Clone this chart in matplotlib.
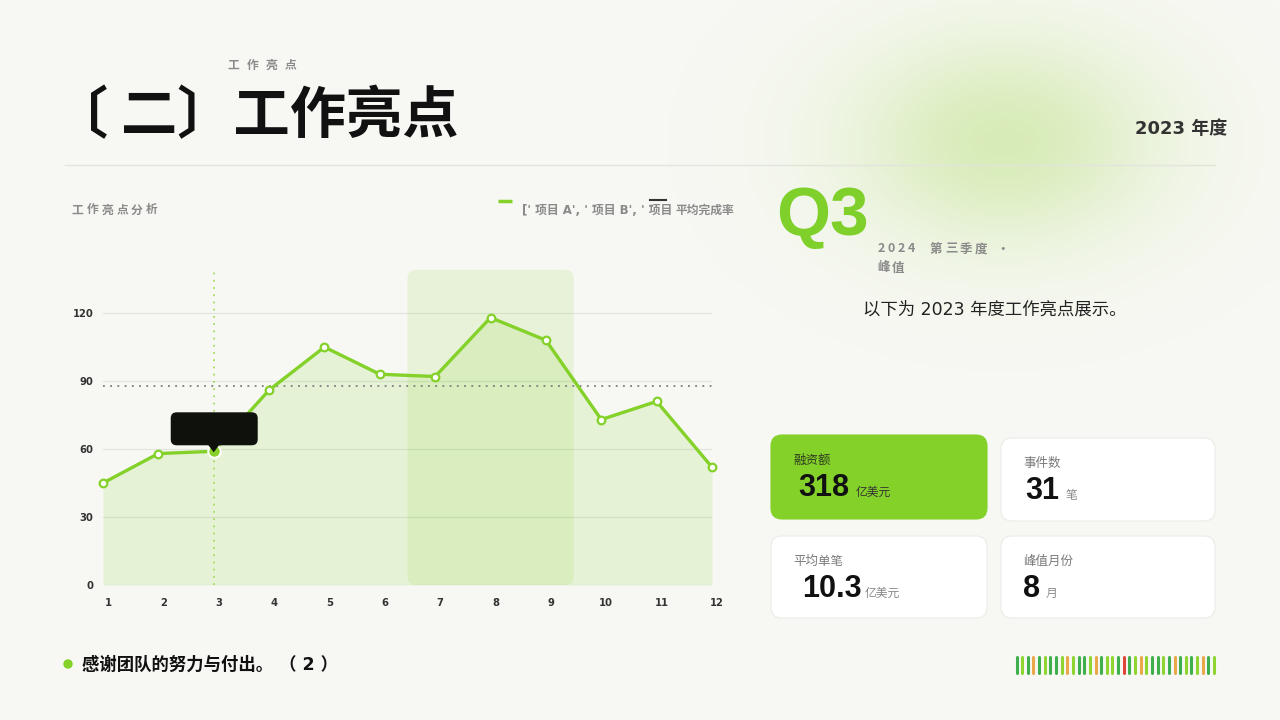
import numpy as np
import matplotlib
matplotlib.use('Agg')
import matplotlib.pyplot as plt
from matplotlib.patches import FancyBboxPatch, Circle, Polygon
from matplotlib.transforms import ScaledTranslation

plt.rcParams['font.family'] = ['Noto Sans CJK SC', 'DejaVu Sans']

# ---------------- data ----------------
months = [1, 2, 3, 4, 5, 6, 7, 8, 9, 10, 11, 12]
month_labels = ['1', '2', '3', '4', '5', '6', '7', '8', '9', '10', '11', '12']
values = [45, 58, 59, 86, 105, 93, 92, 118, 108, 73, 81, 52]
avg_rate = 88
y_ticks = [0, 30, 60, 90, 120]
y_tick_labels = ['0', '30', '60', '90', '120']
y_max = 139
highlight_start, highlight_end = 6.5, 9.5
focus_month = 3

kpi_labels = ['融资额', '事件数', '平均单笔', '峰值月份']
kpi_values = ['318', '31', '10.3', '8']
kpi_units = ['亿美元', '笔', '亿美元', '月']

strip_keys = ['dg', 'lg', 'dg', 'or', 'dg', 'lg', 'dg', 'dg', 'lg', 'or',
              'lg', 'dg', 'dg', 'lg', 'or', 'dg', 'lg', 'lg', 'dg', 'red',
              'dg', 'lg', 'or', 'lg', 'dg', 'dg', 'lg', 'dg', 'or', 'dg',
              'lg', 'dg', 'lg', 'or', 'dg', 'lg']

# ---------------- style ----------------
W, H = 1280, 720
BG = '#f7f8f3'
GREEN = '#84d12a'
strip_palette = {'dg': '#3fae4c', 'lg': '#8ed62f', 'or': '#e9a84a', 'red': '#e0443a'}
LAT = ['DejaVu Sans', 'Noto Sans CJK SC']

fig = plt.figure(figsize=(W / 100, H / 100), dpi=100, facecolor=BG)
renderer = fig.canvas.get_renderer()

bg = fig.add_axes([0, 0, 1, 1], zorder=0)
bg.set_xlim(0, W)
bg.set_ylim(H, 0)
bg.axis('off')

# soft green glow
gx = np.linspace(0, W, W // 4)
gy = np.linspace(0, H, H // 4)
GX, GY = np.meshgrid(gx, gy)
alpha = 0.52 * np.exp(-(((GX - 1005) / 108) ** 2 + ((GY - 140) / 74) ** 2) / 2)
img = np.zeros((len(gy), len(gx), 4))
img[..., 0] = 0.73
img[..., 1] = 0.88
img[..., 2] = 0.50
img[..., 3] = alpha
bg.imshow(img, extent=(0, W, H, 0), origin='upper', aspect='auto', zorder=0)
bg.set_xlim(0, W)
bg.set_ylim(H, 0)


def tracked(axx, x, y, s, track, **kw):
    fs = kw.get('fontsize', 10)
    for ch in s:
        if ch == ' ':
            x += fs * 100 / 72 * 0.3 + track
            continue
        t = axx.text(x, y, ch, **kw)
        x += t.get_window_extent(renderer).width + track


# header
tracked(bg, 228, 65, '工作亮点', 7, fontsize=8.5, fontweight='bold', color='#8a8a8a', va='center')
bg.text(52, 117, '〔 二〕工作亮点', fontsize=40.5, fontweight='bold', color='#111111', va='center', ha='left')
bg.text(1227, 129, '2023 年度', fontsize=13, fontweight='bold', color='#333333', va='center', ha='right',
        family=LAT)
bg.plot([65, 1215], [165, 165], color='#e2e4dd', lw=1)

# chart header and legend
tracked(bg, 72, 210, '工作亮点分析', 3, fontsize=8.5, fontweight='bold', color='#8a8a8a', va='center')
bg.plot([498, 512], [201, 201], color=GREEN, lw=2.5, solid_capstyle='butt')
bg.text(522, 210, "[' 项目 A', ' 项目 B', ' 项目", fontsize=8.5, fontweight='bold', color='#8a8a8a',
        va='center', family=LAT)
bg.plot([650, 666], [200, 200], color='#333333', lw=1.5)
bg.text(675, 210, '平均完成率', fontsize=8.5, fontweight='bold', color='#8a8a8a', va='center')

# right panel
bg.text(776, 235, 'Q3', fontsize=50, fontweight='bold', color='#7fd02a', va='baseline',
        family=['Liberation Sans', 'DejaVu Sans'])
tracked(bg, 878, 249, '2024  第三季度 ·', 2.5, fontsize=9, fontweight='bold', color='#8a8a8a', va='center')
tracked(bg, 877, 268, '峰值', 2.5, fontsize=9, fontweight='bold', color='#8a8a8a', va='center')
bg.text(863, 310, '以下为 2023 年度工作亮点展示。', fontsize=12.5, color='#222222', va='center', family=LAT)

# KPI cards
cards = [(771, 435, 216, 84), (1001, 438, 214, 83), (771, 536, 216, 82), (1001, 536, 214, 82)]
val_off = [27, 24, 31, 22]
unit_gap = [7, 7, 3, 6]
for i, (cx, cy, cw, chh) in enumerate(cards):
    hi = (i == 0)
    bg.add_patch(FancyBboxPatch((cx, cy), cw, chh, boxstyle='round,pad=0,rounding_size=11',
                                facecolor=GREEN if hi else 'white',
                                edgecolor=GREEN if hi else '#ebece7', lw=0.8, zorder=2))
    bg.text(cx + 22, cy + 25, kpi_labels[i], fontsize=9, color='#2d3a1f' if hi else '#7a7a7a',
            va='center', zorder=3)
    vx = cx + val_off[i]
    vt = bg.text(vx, cy + 61, kpi_values[i], fontsize=22, fontweight='bold', color='#111111',
                 va='baseline', zorder=3, family=['Liberation Sans', 'DejaVu Sans'])
    vw = vt.get_window_extent(renderer).width
    bg.text(vx + vw + unit_gap[i], cy + 61, kpi_units[i], fontsize=8.5,
            color='#333333' if hi else '#888888', va='baseline', zorder=3)

# footer
bg.add_patch(Circle((68, 664), 4, color=GREEN))
bg.text(82, 665, '感谢团队的努力与付出。 （ 2 ）', fontsize=12.5, fontweight='bold', color='#111111',
        va='center', family=LAT)
xs_strip = np.linspace(1016.5, 1214, len(strip_keys))
for xx, k in zip(xs_strip, strip_keys):
    bg.plot([xx, xx], [657, 673], color=strip_palette[k], lw=2.2, solid_capstyle='round')

# ---------------- chart ----------------
ax_l, ax_r, ax_b, ax_t = 103, 712, 585, 270
ax = fig.add_axes([ax_l / W, (H - ax_b) / H, (ax_r - ax_l) / W, (ax_b - ax_t) / H], zorder=1)
ax.patch.set_alpha(0)
ax.set_xlim(months[0], months[-1])
ax.set_ylim(0, y_max)
for s in ax.spines.values():
    s.set_visible(False)
ax.set_yticks(y_ticks, y_tick_labels)
ax.set_xticks(months, month_labels)
ax.tick_params(length=0, labelsize=8, labelcolor='#333333')
ax.tick_params(axis='y', pad=7)
ax.tick_params(axis='x', pad=9)
for lab in ax.get_xticklabels() + ax.get_yticklabels():
    lab.set_fontweight('bold')
    lab.set_fontstretch('condensed')
    lab.set_family(['Liberation Sans Narrow', 'DejaVu Sans'])
for lab in ax.get_xticklabels():
    lab.set_transform(lab.get_transform() + ScaledTranslation(5 / 100, 0, fig.dpi_scale_trans))
for yt in y_ticks:
    ax.axhline(yt, color='#e2e4dd', lw=0.9, zorder=0)

px_x = (ax_r - ax_l) / (months[-1] - months[0])
px_y = (ax_b - ax_t) / y_max
ax.add_patch(FancyBboxPatch((highlight_start, 0), highlight_end - highlight_start, y_max,
                            boxstyle='round,pad=0,rounding_size=0.15', mutation_aspect=px_x / px_y,
                            facecolor=GREEN, alpha=0.13, lw=0, zorder=1))
ax.fill_between(months, values, 0, color=GREEN, alpha=0.15, lw=0, zorder=1)
ax.axhline(avg_rate, color='#7d7d7d', lw=1.3, ls=(0, (1, 3)), zorder=2)
ax.axvline(focus_month, color='#a8dc60', lw=1.3, ls=(0, (1, 3)), zorder=2)
ax.plot(months, values, color=GREEN, lw=2.4, marker='o', ms=5.5, mfc='white', mec=GREEN, mew=1.6,
        zorder=3, clip_on=False)
fi = months.index(focus_month)
ax.plot(months[fi], values[fi], 'o', ms=9, mfc=GREEN, mec='white', mew=1.5, zorder=4, clip_on=False)

# tooltip
top = fig.add_axes([0, 0, 1, 1], zorder=3)
top.patch.set_alpha(0)
top.axis('off')
top.set_xlim(0, W)
top.set_ylim(H, 0)
dx, dy = ax.transData.transform((months[fi], values[fi]))
oy = H - dy
top.add_patch(FancyBboxPatch((dx - 43, oy - 39), 87, 33, boxstyle='round,pad=0,rounding_size=6',
                             facecolor='#0e110c', edgecolor='none'))
top.add_patch(Polygon([[dx - 6, oy - 7], [dx + 6, oy - 7], [dx, oy + 1]], closed=True,
                      facecolor='#0e110c', edgecolor='none'))

fig.savefig('out.png', dpi=100, facecolor=BG)
